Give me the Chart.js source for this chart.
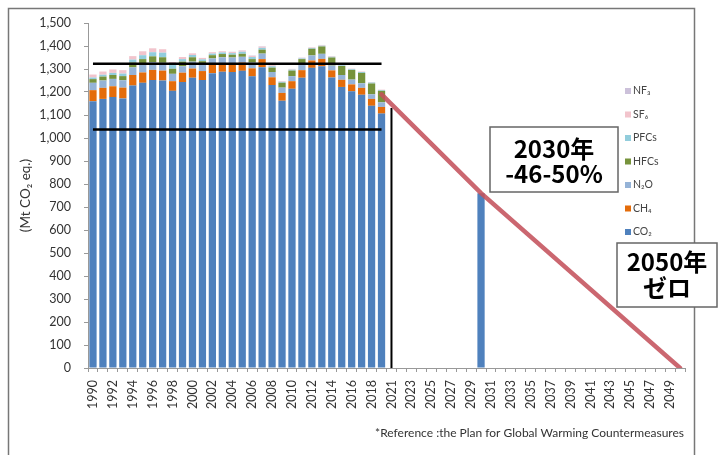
<!DOCTYPE html>
<html>
<head>
<meta charset="utf-8">
<script src="https://cdn.jsdelivr.net/npm/chart.js@4.4.0/dist/chart.umd.min.js"></script>
<style>
  html, body { margin: 0; padding: 0; background: #fff; }
  #wrap { position: relative; width: 726px; height: 455px; }
</style>
</head>
<body>
<div id="wrap"><canvas id="c" width="726" height="455"></canvas></div>
<script>
// fiscal years with inventory data (no 2020 category in the original chart)
const years = ['1990','1991','1992','1993','1994','1995','1996','1997','1998','1999',
  '2000','2001','2002','2003','2004','2005','2006','2007','2008','2009',
  '2010','2011','2012','2013','2014','2015','2016','2017','2018','2019'];
const futureYears = ['2021','2022','2023','2024','2025','2026','2027','2028','2029','2030',
  '2031','2032','2033','2034','2035','2036','2037','2038','2039','2040',
  '2041','2042','2043','2044','2045','2046','2047','2048','2049','2050'];

// Mt CO2 eq. by gas
const co2  = [1160,1170,1178,1172,1228,1240,1252,1250,1205,1243,1262,1252,1282,1288,1287,1292,1268,1308,1230,1162,1214,1262,1305,1312,1263,1222,1203,1188,1140,1106];
const ch4  = [48,48,47,47,46,45,44,43,42,41,40,39,38,37,37,36,35,35,34,34,33,33,32,32,31,31,30,30,30,29];
const n2o  = [32,32,32,32,33,33,34,34,32,28,30,27,26,26,26,25,25,24,23,23,22,22,22,22,21,21,21,20,20,20];
const hfcs = [16,17,17,18,21,25,25,24,22,20,19,16,14,14,12,13,15,17,19,21,24,26,29,32,35,39,42,45,47,50];
const pfcs = [7,8,9,11,13,17,18,20,16,11,10,8,7,7,7,9,9,8,6,4,4,3,3,3,3,3,3,4,4,3];
const sf6  = [13,14,15,15,15,17,17,15,13,9,7,6,6,5,5,5,5,5,4,2,2,2,2,2,2,2,2,2,2,2];
const nf3  = [0,0,0,0,0,0.2,0.2,0.2,0.2,0.3,0.3,0.3,0.4,0.6,1,1.5,1.7,2,1.5,1.5,1.5,1.5,1.4,1.6,1.1,0.6,0.6,0.4,0.3,0.3];

// 2030 target bar and reduction path
const target2030 = 760;
const pathYears  = ['2019','2030','2050'];
const pathValues = [1190, 760, 0];

// black reference lines
const refHigh = 1323;
const refLow  = 1037;
const ref2021 = 1130;

const gasNames = ['CO₂','CH₄','N₂O','HFCs','PFCs','SF₆','NF₃'];
const gasColors = ['#4f81bd','#e46c0a','#95b3d7','#77933c','#92cddc','#f2c4cc','#ccc1da'];

const labels = years.concat(futureYears);
const pad = arr => arr.concat(futureYears.map(() => null));
const co2All = co2.concat(futureYears.map(y => y === '2030' ? target2030 : null));

const gasData = [co2All, pad(ch4), pad(n2o), pad(hfcs), pad(pfcs), pad(sf6), pad(nf3)];

const FONT = 'Lato, "Open Sans", sans-serif';

const barSets = gasNames.map((name, i) => ({
  type: 'bar',
  label: name,
  data: gasData[i],
  backgroundColor: gasColors[i],
  barPercentage: 0.73,
  categoryPercentage: 1.0,
  order: 10
}));

const lineBase = { type: 'line', yAxisID: 'y2', pointRadius: 0, fill: false, tension: 0, spanGaps: true };
const lineSets = [
  Object.assign({}, lineBase, { label: 'high', data: [{x: '1990', y: refHigh}, {x: '2019', y: refHigh}], borderColor: '#000', borderWidth: 2.5, order: 2 }),
  Object.assign({}, lineBase, { label: 'low', data: [{x: '1990', y: refLow}, {x: '2019', y: refLow}], borderColor: '#000', borderWidth: 2.5, order: 2 }),
  Object.assign({}, lineBase, { label: 'v2021', data: [{x: '2021', y: 0}, {x: '2021', y: ref2021}], borderColor: '#000', borderWidth: 2, order: 2 }),
  Object.assign({}, lineBase, { label: 'path', data: pathYears.map((y, i) => ({x: y, y: pathValues[i]})), borderColor: 'rgba(196,82,92,0.88)', borderWidth: 4.5, borderCapStyle: 'round', order: 1 })
];

const decor = {
  id: 'decor',
  afterDraw(chart) {
    const ctx = chart.ctx;
    ctx.save();
    // outer frame
    ctx.strokeStyle = '#777';
    ctx.lineWidth = 1.5;
    ctx.strokeRect(8.5, 8.5, 686, 460);

    // legend (top: NF3 ... bottom: CO2)
    ctx.font = '10.5px ' + FONT;
    ctx.textBaseline = 'middle';
    ctx.textAlign = 'left';
    for (let k = 0; k < gasNames.length; k++) {
      const i = gasNames.length - 1 - k;
      const y = 91 + k * 23.5;
      ctx.fillStyle = gasColors[i];
      ctx.fillRect(625, y - 3, 6, 6);
      ctx.fillStyle = '#444';
      ctx.fillText(gasNames[i], 633, y);
    }

    // callout boxes
    const box = (x, y, w, h, lines, cy) => {
      ctx.fillStyle = '#fff';
      ctx.fillRect(x, y, w, h);
      ctx.strokeStyle = '#666';
      ctx.lineWidth = 1.5;
      ctx.strokeRect(x, y, w, h);
      ctx.fillStyle = '#000';
      ctx.font = 'bold 24px "Noto Sans CJK JP", "Noto Sans", sans-serif';
      ctx.textAlign = 'center';
      ctx.textBaseline = 'middle';
      lines.forEach((t, j) => ctx.fillText(t, x + w / 2, cy[j]));
    };
    box(490, 127, 128, 65, ['2030年', '-46-50%'], [149, 174]);
    box(617, 243, 100, 64, ['2050年', 'ゼロ'], [262, 288]);

    // source note
    ctx.font = '12px ' + FONT;
    ctx.fillStyle = '#333';
    ctx.textAlign = 'right';
    ctx.textBaseline = 'middle';
    ctx.fillText('*Reference :the Plan for Global Warming Countermeasures', 684, 433);
    ctx.restore();
  }
};

new Chart(document.getElementById('c'), {
  data: { labels: labels, datasets: barSets.concat(lineSets) },
  options: {
    responsive: false,
    animation: false,
    layout: { padding: { left: 10, right: 41, top: 23, bottom: 0 } },
    plugins: { legend: { display: false }, tooltip: { enabled: false } },
    scales: {
      x: {
        stacked: true,
        grid: { display: true, drawOnChartArea: false, drawTicks: true, tickLength: 4, color: '#999' },
        border: { display: true, color: '#999' },
        ticks: {
          autoSkip: false,
          minRotation: 90,
          maxRotation: 90,
          padding: 8,
          color: '#333',
          font: { family: FONT, size: 12.5 },
          callback: (v, i) => (i % 2 === 0 ? labels[i] : '')
        },
        afterFit: s => { s.height = 87; }
      },
      y: {
        stacked: true,
        min: 0,
        max: 1500,
        ticks: {
          stepSize: 100,
          padding: 13,
          color: '#333',
          font: { family: FONT, size: 12.5 },
          callback: v => v.toLocaleString('en-US')
        },
        grid: { display: true, drawOnChartArea: false, drawTicks: true, tickLength: 4, color: '#999' },
        border: { display: true, color: '#999' },
        title: { display: true, text: '(Mt CO₂ eq.)', color: '#333', font: { family: FONT, size: 13.5 }, padding: { top: 8, bottom: 0 } },
        afterFit: s => { s.width = 78; }
      },
      y2: { display: false, min: 0, max: 1500 }
    }
  },
  plugins: [decor]
});
</script>
</body>
</html>
